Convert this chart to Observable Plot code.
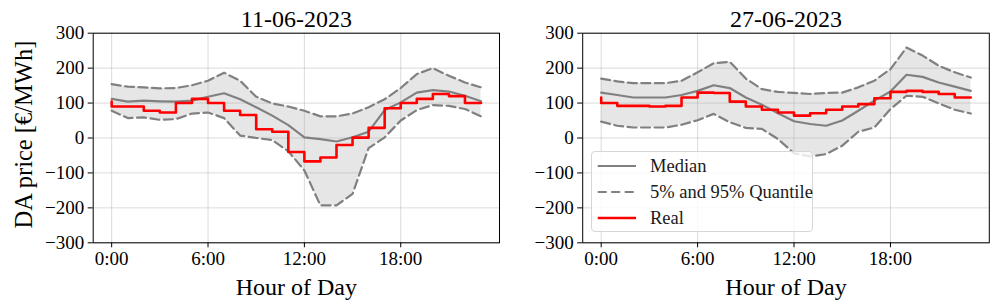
<!DOCTYPE html>
<html>
<head>
<meta charset="utf-8">
<script src="https://cdn.jsdelivr.net/npm/d3@7"></script>
<script src="https://cdn.jsdelivr.net/npm/@observablehq/plot@0.6"></script>
<style>
  html, body { margin: 0; padding: 0; background: white; }
  #chart { position: relative; width: 997px; height: 304px; background: white; overflow: hidden; font-family: "Liberation Serif", serif; }
  #chart svg { position: absolute; top: 0; }
  .legend { position: absolute; left: 591px; top: 151px; width: 222px; height: 81px; box-sizing: border-box;
            border: 1px solid #d6d6d6; border-radius: 4px; background: rgba(255,255,255,0.8); }
  .legend .row { position: absolute; left: 0; height: 24px; width: 100%; }
  .legend .row svg { position: absolute; left: 5px; top: 0; }
  .legend .row span { position: absolute; left: 58px; top: 0; line-height: 24px; font-size: 18.5px; color: #1a1a1a; white-space: nowrap; }
</style>
</head>
<body>
<div id="chart"></div>
<script>
// ---- data ----
const hours = [0,1,2,3,4,5,6,7,8,9,10,11,12,13,14,15,16,17,18,19,20,21,22,23];

const titles = ["11-06-2023", "27-06-2023"];

// 11-06-2023
const medianA = [112,104,107,105,104,107,118,128,111,88,64,37,2,-3,-10,2,18,80,102,130,137,133,121,105];
const upperA  = [154,147,145,142,143,151,164,187,164,118,99,90,78,62,62,70,88,111,143,183,200,178,159,145];
const lowerA  = [78,57,59,52,54,70,73,57,7,0,-6,-38,-93,-193,-193,-160,-29,2,50,80,94,92,83,62];
const realA   = [104,90,90,78,73,100,112,100,78,66,25,18,-40,-67,-56,-20,1,29,85,100,112,126,120,100];

// 27-06-2023
const medianB = [130,123,116,116,116,123,135,151,143,116,95,71,48,40,35,50,78,107,133,181,175,159,147,135];
const upperB  = [170,162,157,157,157,164,188,214,218,170,140,132,129,126,129,130,145,164,197,259,236,207,188,173];
const lowerB  = [47,35,30,30,30,38,51,69,45,29,26,-3,-44,-53,-46,-22,18,30,83,121,118,99,81,70];
const realB   = [116,100,92,92,90,92,116,130,129,104,90,81,73,64,71,81,90,97,114,132,135,132,126,116];

const xTicks = [0, 6, 12, 18];
const yTicks = [-300, -200, -100, 0, 100, 200, 300];

const legendLabels = ["Median", "5% and 95% Quantile", "Real"];

// ---- build ----
function rows(med, up, lo, real) {
  return hours.map((h, i) => ({hour: h, median: med[i], upper: up[i], lower: lo[i], real: real[i]}));
}

const GRAY = "#808080";
const fmtY = d => d < 0 ? "\u2212" + (-d) : String(d);

function panel(data, title, opts) {
  const marks = [
    Plot.areaY(data, {x: "hour", y1: "lower", y2: "upper", fill: "#e6e6e6"}),
    Plot.gridX(xTicks, {stroke: "#b0b0b0", strokeOpacity: 0.45, strokeWidth: 1}),
    Plot.gridY(yTicks, {stroke: "#b0b0b0", strokeOpacity: 0.45, strokeWidth: 1}),
    Plot.line(data, {x: "hour", y: "upper", stroke: GRAY, strokeWidth: 2.2, strokeDasharray: "9,4.5"}),
    Plot.line(data, {x: "hour", y: "lower", stroke: GRAY, strokeWidth: 2.2, strokeDasharray: "9,4.5"}),
    Plot.line(data, {x: "hour", y: "median", stroke: GRAY, strokeWidth: 2.2}),
    Plot.line(data, {x: "hour", y: "real", stroke: "#ff0000", strokeWidth: 2.6, curve: "step-before"}),
    Plot.frame({stroke: "black", strokeWidth: 1}),
    Plot.axisX({ticks: xTicks, tickFormat: h => `${h}:00`, tickSize: 5, tickPadding: 4, fontSize: 19, label: null}),
    Plot.axisY({ticks: yTicks, tickFormat: fmtY, tickSize: 5, tickPadding: 4, fontSize: 19, label: null}),
    Plot.text([title], {frameAnchor: "top", textAnchor: "middle", dy: -6.7, lineAnchor: "bottom", fontSize: 24, fill: "black"}),
    Plot.text(["Hour of Day"], {frameAnchor: "bottom", textAnchor: "middle", dy: 52.5, lineAnchor: "bottom", fontSize: 24, fill: "black"})
  ];
  if (opts.ylabel) {
    marks.push(Plot.text([opts.ylabel], {frameAnchor: "left", textAnchor: "middle", dx: -61, dy: -3.5, rotate: -90, lineAnchor: "bottom", fontSize: 24.5, fill: "black"}));
  }
  return Plot.plot({
    width: opts.width,
    height: 304,
    marginLeft: opts.marginLeft,
    marginRight: opts.marginRight,
    marginTop: 32.7,
    marginBottom: 61.7,
    x: {domain: [-1.15, 24.15]},
    y: {domain: [-300, 300]},
    style: "font-family: 'Liberation Serif', serif; font-size: 19px; overflow: visible; background: transparent; color: black;",
    marks
  });
}

const chart = document.getElementById("chart");

const svgA = panel(rows(medianA, upperA, lowerA, realA), titles[0],
  {width: 500, marginLeft: 92.7, marginRight: 1, ylabel: "DA price [\u20AC/MWh]"});
svgA.style.left = "0px";
chart.appendChild(svgA);

const svgB = panel(rows(medianB, upperB, lowerB, realB), titles[1],
  {width: 507, marginLeft: 92.2, marginRight: 8.2});
svgB.style.left = "490px";
chart.appendChild(svgB);

// legend
const legend = document.createElement("div");
legend.className = "legend";
const styles = [
  {stroke: GRAY, dash: null, w: 2.2},
  {stroke: GRAY, dash: "9,4.5", w: 2.2},
  {stroke: "#ff0000", dash: null, w: 2.6}
];
const rowTops = [2, 28, 53.7];
legendLabels.forEach((lab, i) => {
  const row = document.createElement("div");
  row.className = "row";
  row.style.top = rowTops[i] + "px";
  const s = styles[i];
  row.innerHTML = `<svg width="40" height="24"><line x1="0.7" x2="39" y1="12" y2="12" stroke="${s.stroke}" stroke-width="${s.w}" ${s.dash ? `stroke-dasharray="${s.dash}"` : ""}/></svg><span>${lab}</span>`;
  legend.appendChild(row);
});
chart.appendChild(legend);
</script>
</body>
</html>
